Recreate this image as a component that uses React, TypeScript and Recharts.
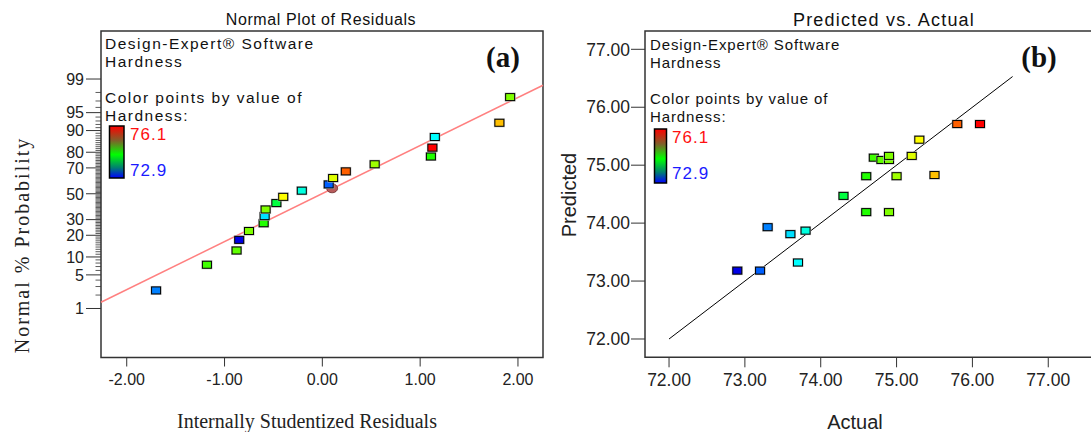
import { ScatterChart, Scatter, XAxis, YAxis, ReferenceLine, ReferenceArea } from 'recharts';

// ---- (a) normal plot of residuals ----
const residuals = [-1.70, -1.18, -0.877, -0.85, -0.75, -0.60, -0.59, -0.58, -0.47, -0.40, -0.21, 0.065, 0.11, 0.24, 0.535, 1.11, 1.125, 1.15, 1.81, 1.92];
const probability = [2.5, 7.5, 12.5, 17.5, 22.5, 27.5, 32.5, 37.5, 42.5, 47.5, 52.5, 57.5, 62.5, 67.5, 72.5, 77.5, 82.5, 87.5, 92.5, 97.5];
const residualHardness = [73.3, 74.7, 74.8, 72.9, 74.9, 74.6, 73.6, 74.9, 74.3, 75.3, 73.8, 73.2, 75.2, 75.8, 75.0, 74.6, 76.1, 73.7, 75.5, 74.9];
const markedPoint = { x: 0.10, p: 54.4 };
const fitLineA = [{ x: -2.263, z: -2.2 }, { x: 2.256, z: 2.2 }];
const probMajor = [1, 5, 10, 20, 30, 50, 70, 80, 90, 95, 99];
const probMinor = [2, 3, 4, 6, 7, 8, 9, 11, 12, 13, 14, 15, 16, 17, 18, 19, 21, 22, 23, 24, 25, 26, 27, 28, 29, 31, 32, 33, 34, 35, 36, 37, 38, 39, 40, 41, 42, 43, 44, 45, 46, 47, 48, 49, 51, 52, 53, 54, 55, 56, 57, 58, 59, 60, 61, 62, 63, 64, 65, 66, 67, 68, 69, 71, 72, 73, 74, 75, 76, 77, 78, 79, 81, 82, 83, 84, 85, 86, 87, 88, 89, 91, 92, 93, 94, 96, 97, 98];
const residualTicks = [-2, -1, 0, 1, 2];

// ---- (b) predicted vs actual ----
const actual = [72.9, 73.2, 73.3, 73.6, 73.7, 73.8, 74.3, 74.6, 74.9, 74.6, 74.7, 74.8, 74.9, 74.9, 75.0, 75.2, 75.3, 75.5, 75.8, 76.1];
const predicted = [73.18, 73.18, 73.93, 73.81, 73.32, 73.87, 74.47, 74.19, 74.19, 74.81, 75.13, 75.09, 75.09, 75.16, 74.81, 75.16, 75.44, 74.83, 75.71, 75.71];
const lineB = [72, 76.53];
const predTicks = [72, 73, 74, 75, 76, 77];

const H_MIN = 72.9;
const H_MAX = 76.1;

const X_A: [number, number] = [-2.263, 2.256];
const Y_A: [number, number] = [-3.32, 3.3];
const X_B: [number, number] = [71.683, 77.59];
const Y_B: [number, number] = [71.684, 77.316];
const A_YAXIS_W = 101;

// inverse normal CDF (Acklam) for the probability scale
function probit(pct: number) {
  const p = pct / 100;
  const a = [-39.69683028665376, 220.9460984245205, -275.9285104469687, 138.357751867269, -30.66479806614716, 2.506628274631];
  const b = [-54.47609879822406, 161.5858368580409, -155.6989798598866, 66.80131188771972, -13.28068155288572];
  const c = [-0.007784894002430293, -0.3223964580411365, -2.400758277161838, -2.549732539343734, 4.374664141464968, 2.938163982698783];
  const d = [0.007784695709041462, 0.3224671290700398, 2.445134137142996, 3.754408661907416];
  const pl = 0.02425;
  if (p < pl) {
    const q = Math.sqrt(-2 * Math.log(p));
    return (((((c[0] * q + c[1]) * q + c[2]) * q + c[3]) * q + c[4]) * q + c[5]) / ((((d[0] * q + d[1]) * q + d[2]) * q + d[3]) * q + 1);
  }
  if (p > 1 - pl) {
    const q = Math.sqrt(-2 * Math.log(1 - p));
    return -(((((c[0] * q + c[1]) * q + c[2]) * q + c[3]) * q + c[4]) * q + c[5]) / ((((d[0] * q + d[1]) * q + d[2]) * q + d[3]) * q + 1);
  }
  const q = p - 0.5;
  const r = q * q;
  return (((((a[0] * r + a[1]) * r + a[2]) * r + a[3]) * r + a[4]) * r + a[5]) * q / (((((b[0] * r + b[1]) * r + b[2]) * r + b[3]) * r + b[4]) * r + 1);
}

function hardnessColor(v: number) {
  const t = Math.min(1, Math.max(0, (v - H_MIN) / (H_MAX - H_MIN)));
  return `hsl(${240 * (1 - t)}, 100%, ${t < 0.05 ? 45 : 50}%)`;
}

const dataA = residuals.map((x, i) => ({ x, y: probit(probability[i]), h: residualHardness[i] }));
const markedA = [{ x: markedPoint.x, y: probit(markedPoint.p) }];
const dataB = actual.map((x, i) => ({ x, y: predicted[i], h: actual[i] }));

// every percent gets a tick; only the majors carry a label
const tickPct = [...probMajor, ...probMinor].sort((m, n) => m - n);
const tickZ = tickPct.map(probit);

const SANS = '"Liberation Sans", Arial, sans-serif';
const SERIF = '"Liberation Serif", "Times New Roman", serif';
const AXIS = '#333';

function SquareMark(props: any) {
  const { cx, cy, payload } = props;
  if (cx == null || cy == null) return null;
  return (
    <g>
      <rect x={cx - 5.5} y={cy - 4.5} width={11} height={9} fill="#b8b8b8" />
      <rect x={cx - 4.5} y={cy - 3.5} width={9} height={7} fill={hardnessColor(payload.h)} stroke="#000" strokeWidth={1} />
    </g>
  );
}

function RoundMark(props: any) {
  const { cx, cy } = props;
  if (cx == null || cy == null) return null;
  return <ellipse cx={cx} cy={cy} rx={5.5} ry={4.5} fill="#b85c5c" stroke="#6a2a2a" strokeWidth={0.8} />;
}

function ProbTick(props: any) {
  const { y, payload } = props;
  if (y == null || !payload) return null;
  let k = 0;
  for (let i = 1; i < tickZ.length; i++) if (Math.abs(tickZ[i] - payload.value) < Math.abs(tickZ[k] - payload.value)) k = i;
  const pct = tickPct[k];
  const major = probMajor.includes(pct);
  return (
    <g>
      <line x1={major ? A_YAXIS_W - 15 : A_YAXIS_W - 5.5} x2={A_YAXIS_W} y1={y} y2={y} stroke={AXIS} strokeWidth={major ? 1 : 0.8} />
      {major && (
        <text x={A_YAXIS_W - 17} y={y} dy="0.36em" textAnchor="end" fontSize={16} fontFamily={SANS} fill="#222">
          {pct}
        </text>
      )}
    </g>
  );
}

function Legend({ x, y0, barX, barY, barW, barH, lbl, fs, ls }: any) {
  return (
    <g fontFamily={SANS} fill="#111">
      <text x={x} y={y0} fontSize={fs} letterSpacing={ls}>Design-Expert® Software</text>
      <text x={x} y={y0 + 17.5} fontSize={fs} letterSpacing={ls}>Hardness</text>
      <text x={x} y={y0 + 54} fontSize={fs} letterSpacing={ls}>Color points by value of</text>
      <text x={x} y={y0 + 72} fontSize={fs} letterSpacing={ls}>Hardness:</text>
      <rect x={barX} y={barY} width={barW} height={barH} fill="url(#hardGrad)" stroke="#000" strokeWidth={1.5} />
      <text x={lbl} y={barY + 13.5} fontSize={17} fill="#ff1010" letterSpacing={1}>76.1</text>
      <text x={lbl} y={barY + 50} fontSize={17} fill="#1a1aff" letterSpacing={1}>72.9</text>
    </g>
  );
}

export default function App() {
  return (
    <div style={{ position: 'absolute', left: 0, top: 0, width: 1091, height: 432, overflow: 'hidden', background: '#fff' }}>
      <div style={{ position: 'absolute', left: 0, top: 0 }}>
        <ScatterChart width={545} height={432} margin={{ top: 31, right: 2, bottom: 0, left: 0 }}>
          <XAxis
            type="number"
            dataKey="x"
            domain={X_A}
            ticks={residualTicks}
            tickFormatter={(v: number) => v.toFixed(2)}
            height={74.5}
            axisLine={false}
            tickSize={9}
            tickMargin={7}
            tickLine={{ stroke: AXIS }}
            tick={{ fontSize: 16, fontFamily: SANS, fill: '#222' }}
            allowDataOverflow
          />
          <YAxis
            type="number"
            dataKey="y"
            domain={Y_A}
            ticks={tickZ}
            interval={0}
            width={A_YAXIS_W}
            axisLine={false}
            tickLine={false}
            tick={<ProbTick />}
            allowDataOverflow
          />
          <ReferenceArea x1={X_A[0]} x2={X_A[1]} y1={Y_A[0]} y2={Y_A[1]} fill="none" stroke={AXIS} strokeWidth={1.5} fillOpacity={0} />
          <ReferenceLine
            segment={[{ x: fitLineA[0].x, y: fitLineA[0].z }, { x: fitLineA[1].x, y: fitLineA[1].z }]}
            stroke="#ff8080"
            strokeWidth={1.5}
          />
          <Scatter data={markedA} shape={<RoundMark />} isAnimationActive={false} />
          <Scatter data={dataA} shape={<SquareMark />} isAnimationActive={false} />
        </ScatterChart>
      </div>

      <div style={{ position: 'absolute', left: 550, top: 0 }}>
        <ScatterChart width={546} height={432} margin={{ top: 31, right: 3, bottom: 0, left: 0 }}>
          <XAxis
            type="number"
            dataKey="x"
            domain={X_B}
            ticks={predTicks}
            tickFormatter={(v: number) => v.toFixed(2)}
            height={74.7}
            axisLine={false}
            tickSize={10}
            tickMargin={6}
            tickLine={{ stroke: AXIS }}
            tick={{ fontSize: 17.5, fontFamily: SANS, fill: '#222' }}
            allowDataOverflow
          />
          <YAxis
            type="number"
            dataKey="y"
            domain={Y_B}
            ticks={predTicks}
            tickFormatter={(v: number) => v.toFixed(2)}
            interval={0}
            width={95}
            axisLine={false}
            tickSize={14}
            tickMargin={1}
            tickLine={{ stroke: AXIS }}
            tick={{ fontSize: 17.5, fontFamily: SANS, fill: '#222' }}
            allowDataOverflow
          />
          <ReferenceArea x1={X_B[0]} x2={X_B[1]} y1={Y_B[0]} y2={Y_B[1]} fill="none" stroke={AXIS} strokeWidth={1.5} fillOpacity={0} />
          <ReferenceLine
            segment={[{ x: lineB[0], y: lineB[0] }, { x: lineB[1], y: lineB[1] }]}
            stroke="#000"
            strokeWidth={1}
          />
          <Scatter data={dataB} shape={<SquareMark />} isAnimationActive={false} />
        </ScatterChart>
      </div>

      <svg width={1091} height={432} style={{ position: 'absolute', left: 0, top: 0, pointerEvents: 'none' }}>
        <defs>
          <linearGradient id="hardGrad" x1="0" y1="0" x2="0" y2="1">
            <stop offset="0%" stopColor="#ff0000" />
            <stop offset="28%" stopColor="#80602a" />
            <stop offset="55%" stopColor="#00ff00" />
            <stop offset="80%" stopColor="#008070" />
            <stop offset="100%" stopColor="#0000ff" />
          </linearGradient>
        </defs>

        <text x={321} y={25} textAnchor="middle" fontSize={16} fontFamily={SANS} fill="#111" letterSpacing={0.6}>Normal Plot of Residuals</text>
        <Legend x={105} y0={49.3} barX={109.5} barY={126} barW={14.5} barH={52} lbl={130} fs={15.5} ls={1.5} />
        <text x={503} y={67} textAnchor="middle" fontSize={29} fontWeight="bold" fontFamily={SERIF} fill="#111">(a)</text>
        <text x={307} y={428} textAnchor="middle" fontSize={20} fontFamily={SERIF} fill="#222">Internally Studentized Residuals</text>
        <text x={0} y={0} transform="translate(29,245) rotate(-90)" textAnchor="middle" fontSize={20} fontFamily={SERIF} fill="#222" letterSpacing={2}>Normal % Probability</text>

        <text x={884} y={26} textAnchor="middle" fontSize={18} fontFamily={SANS} fill="#111" letterSpacing={1.2}>Predicted vs. Actual</text>
        <Legend x={650} y0={50} barX={654.5} barY={129} barW={12} barH={54} lbl={672} fs={15} ls={0.9} />
        <text x={1039} y={67} textAnchor="middle" fontSize={29} fontWeight="bold" fontFamily={SERIF} fill="#111">(b)</text>
        <text x={855} y={429} textAnchor="middle" fontSize={20} fontFamily={SANS} fill="#222">Actual</text>
        <text x={0} y={0} transform="translate(576,195) rotate(-90)" textAnchor="middle" fontSize={20} fontFamily={SANS} fill="#222">Predicted</text>
      </svg>
    </div>
  );
}
